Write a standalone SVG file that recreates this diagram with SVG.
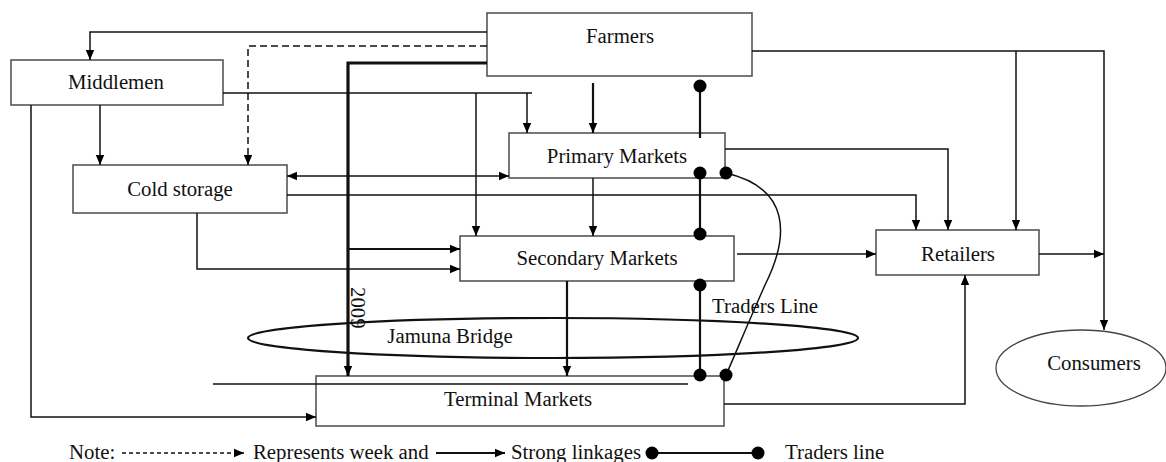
<svg xmlns="http://www.w3.org/2000/svg" width="1166" height="462" viewBox="0 0 1166 462">
<style>
text{font-family:"Liberation Serif","Times New Roman",serif;font-size:20.8px;fill:#111}
.lbl{text-anchor:middle}
.box{fill:#fff;stroke:#555;stroke-width:1.6}
.c{fill:none;stroke:#111;stroke-width:1.5}
.w2{stroke-width:2.2}
.w3{stroke-width:3.2}
.dash{stroke-dasharray:7,4}
.dot{fill:#000}
</style>
<defs>
<marker id="ah" viewBox="0 0 10 10" refX="10" refY="5" markerWidth="10" markerHeight="10" markerUnits="userSpaceOnUse" orient="auto-start-reverse">
<path d="M0,0.8 L10,5 L0,9.2 z" fill="#000"/>
</marker>
</defs>
<g id="farmers"><rect class="box" x="487" y="13" width="265" height="63"/><text class="lbl" x="620" y="43">Farmers</text></g>
<g id="middlemen"><rect class="box" x="11" y="60" width="212" height="45"/><text class="lbl" x="116" y="89">Middlemen</text></g>
<g id="cold-storage"><rect class="box" x="73" y="165" width="214" height="48"/><text class="lbl" x="180" y="196">Cold storage</text></g>
<g id="primary-markets"><rect class="box" x="509" y="133" width="216" height="45"/><text class="lbl" x="617" y="163">Primary Markets</text></g>
<g id="secondary-markets"><rect class="box" x="460" y="236" width="274" height="45"/><text class="lbl" x="597" y="265">Secondary Markets</text></g>
<g id="retailers"><rect class="box" x="876" y="230" width="163" height="45"/><text class="lbl" x="958" y="261">Retailers</text></g>
<g id="terminal-markets"><rect class="box" x="316" y="376" width="408" height="50"/><text class="lbl" x="518" y="406">Terminal Markets</text></g>
<g id="consumers"><ellipse cx="1081" cy="368" rx="85" ry="38" fill="#fff" stroke="#444" stroke-width="1.3"/><text class="lbl" x="1094" y="370">Consumers</text></g>
<g id="jamuna-bridge"><ellipse cx="553" cy="338" rx="305" ry="20" fill="none" stroke="#111" stroke-width="2.2"/><text class="lbl" x="450" y="343">Jamuna Bridge</text></g>
<g id="connectors">
<path class="c" d="M487,32 H90 V60" marker-end="url(#ah)"/>
<path class="c dash" d="M487,46 H248 V165" marker-end="url(#ah)"/>
<path class="c w3" d="M487,63 H348 V376" marker-end="url(#ah)"/>
<path class="c" d="M223,93 H532"/>
<path class="c" d="M527,93 V133" marker-end="url(#ah)"/>
<path class="c" d="M476,93 V236" marker-end="url(#ah)"/>
<path class="c" d="M100,105 V165" marker-end="url(#ah)"/>
<path class="c" d="M31,105 V417 H316" marker-end="url(#ah)"/>
<path class="c w2" d="M593,83 V133" marker-end="url(#ah)"/>
<path class="c" d="M752,51 H1104 V330" marker-end="url(#ah)"/>
<path class="c" d="M1016,51 V230" marker-end="url(#ah)"/>
<path class="c" d="M725,149 H948 V230" marker-end="url(#ah)"/>
<path class="c" d="M287,195 H916 V230" marker-end="url(#ah)"/>
<path class="c" d="M287,176 H509" marker-start="url(#ah)" marker-end="url(#ah)"/>
<path class="c" d="M593,178 V236" marker-end="url(#ah)"/>
<path class="c" d="M197,213 V269 H460" marker-end="url(#ah)"/>
<path class="c w2" d="M348,249 H460" marker-end="url(#ah)"/>
<path class="c w2" d="M567,281 V376" marker-end="url(#ah)"/>
<path class="c" d="M737,254 H876" marker-end="url(#ah)"/>
<path class="c" d="M1039,254 H1104" marker-end="url(#ah)"/>
<path class="c" d="M724,404 H965 V275" marker-end="url(#ah)"/>
<path class="c" d="M213,384 H688"/>
<path class="c w2" d="M700,86 V138"/>
<path class="c w2" d="M700,173 V234"/>
<path class="c w2" d="M700,285 V375"/>
<path class="c" d="M726,173 C790,188 790,235 765,285 C745,330 735,355 726,375"/>
<circle class="dot" cx="700" cy="86" r="6.5"/>
<circle class="dot" cx="700" cy="173" r="6.5"/>
<circle class="dot" cx="726" cy="173" r="6.5"/>
<circle class="dot" cx="700" cy="234" r="6.5"/>
<circle class="dot" cx="700" cy="285" r="6.5"/>
<circle class="dot" cx="700" cy="375" r="6.5"/>
<circle class="dot" cx="726" cy="375" r="6.5"/>
</g>
<g id="labels">
<text transform="translate(351,287) rotate(90)">2009</text>
<text x="712" y="313">Traders Line</text>
</g>
<g id="legend">
<text x="69" y="459">Note:</text>
<path class="c" d="M122,453 H244" stroke-dasharray="4,3" marker-end="url(#ah)"/>
<text x="253" y="459">Represents week and</text>
<path class="c w2" d="M436,453 H505" marker-end="url(#ah)"/>
<text x="511" y="459">Strong linkages</text>
<path class="c w2" d="M652,453 H758"/>
<circle class="dot" cx="652" cy="453" r="6.5"/>
<circle class="dot" cx="758" cy="453" r="6.5"/>
<text x="785" y="459">Traders line</text>
</g>
</svg>
